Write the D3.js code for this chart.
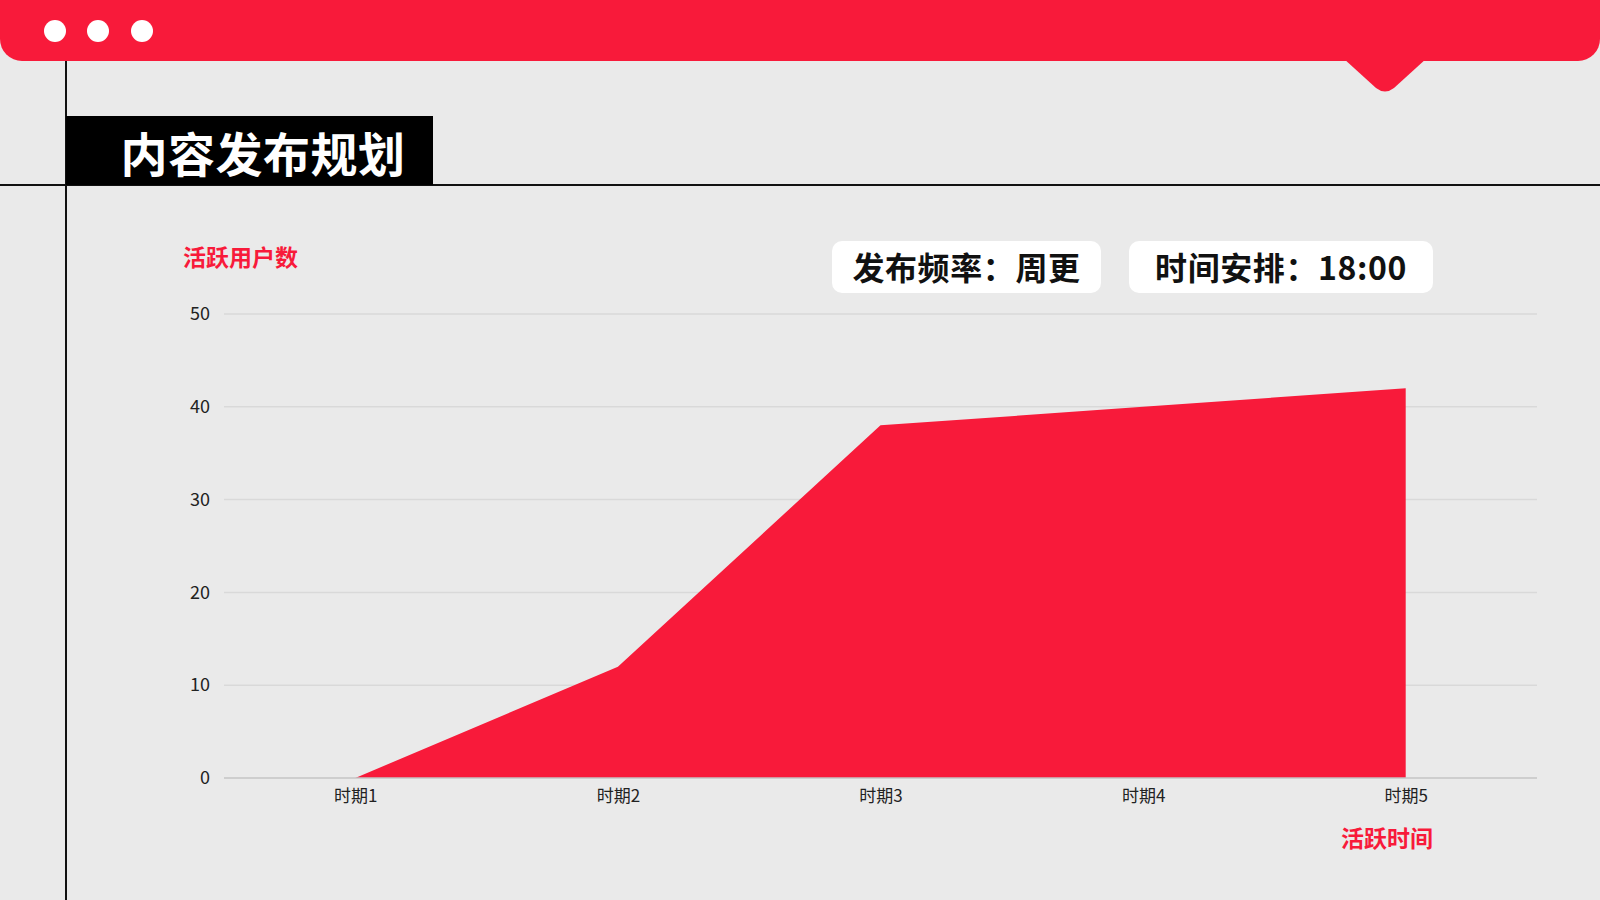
<!DOCTYPE html>
<html>
<head>
<meta charset="utf-8">
<script src="https://cdn.jsdelivr.net/npm/d3@7"></script>
<style>
  html, body { margin: 0; padding: 0; background: #eaeaea; overflow: hidden; }
  text { font-family: "Noto Sans CJK SC", "Noto Sans", sans-serif; }
</style>
</head>
<body>
<div id="chart"></div>
<script>
// Chart data
const periods = ["时期1", "时期2", "时期3", "时期4", "时期5"];
const activeUsers = [0, 12, 38, 40, 42];
const yTicks = [0, 10, 20, 30, 40, 50];

const titleText = "内容发布规划";
const yTitle = "活跃用户数";
const xTitle = "活跃时间";
const badges = ["发布频率：周更", "时间安排：18:00"];

const red = "#f81a3a";
const width = 1600;
const height = 900;

const svg = d3.select("#chart")
    .append("svg")
    .attr("width", width)
    .attr("height", height);

svg.append("rect")
    .attr("width", width)
    .attr("height", height)
    .attr("fill", "#eaeaea");

// Top red browser bar with its little tail
svg.append("rect")
    .attr("x", 0)
    .attr("y", -30)
    .attr("width", width)
    .attr("height", 91)
    .attr("rx", 22)
    .attr("fill", red);

svg.append("path")
    .attr("d", "M1343,58 L1376,88 Q1385,95 1394,88 L1427,58 Z")
    .attr("fill", red);

svg.selectAll(".dot")
    .data([55, 98, 142])
    .enter()
    .append("circle")
    .attr("cx", d => d)
    .attr("cy", 31)
    .attr("r", 11)
    .attr("fill", "#fff");

// Frame lines
svg.append("line")
    .attr("x1", 66).attr("x2", 66)
    .attr("y1", 61).attr("y2", height)
    .attr("stroke", "#111").attr("stroke-width", 2);

svg.append("line")
    .attr("x1", 0).attr("x2", width)
    .attr("y1", 185).attr("y2", 185)
    .attr("stroke", "#111").attr("stroke-width", 2);

// Title block
svg.append("rect")
    .attr("x", 66)
    .attr("y", 116)
    .attr("width", 367)
    .attr("height", 69)
    .attr("fill", "#000");

svg.append("text")
    .attr("x", 263)
    .attr("y", 151)
    .attr("text-anchor", "middle")
    .attr("dominant-baseline", "central")
    .attr("font-size", "47px")
    .attr("font-weight", 700)
    .attr("letter-spacing", "0.5px")
    .attr("fill", "#fff")
    .text(titleText);

// Badges
const badgeBoxes = [[832, 1101], [1129, 1433]];
badges.forEach((b, i) => {
    const [x0, x1] = badgeBoxes[i];
    svg.append("rect")
        .attr("x", x0)
        .attr("y", 241)
        .attr("width", x1 - x0)
        .attr("height", 52)
        .attr("rx", 10)
        .attr("fill", "#fff");
    svg.append("text")
        .attr("x", (x0 + x1) / 2)
        .attr("y", 266)
        .attr("text-anchor", "middle")
        .attr("dominant-baseline", "central")
        .attr("font-size", "32px")
        .attr("font-weight", 700)
        .attr("letter-spacing", "0.6px")
        .attr("fill", "#111")
        .text(b);
});

// Chart area
const margin = { left: 224, right: 1537, top: 314, bottom: 778 };

const x = d3.scalePoint()
    .domain(periods)
    .range([margin.left, margin.right])
    .padding(0.5);

const y = d3.scaleLinear()
    .domain([0, 50])
    .range([margin.bottom, margin.top]);

// Gridlines
svg.append("g")
    .selectAll("line")
    .data(yTicks.filter(d => d > 0))
    .enter()
    .append("line")
    .attr("x1", margin.left)
    .attr("x2", margin.right)
    .attr("y1", d => y(d))
    .attr("y2", d => y(d))
    .attr("stroke", "#d9d9d9")
    .attr("stroke-width", 1.5);

// Area
const area = d3.area()
    .x((d, i) => x(periods[i]))
    .y0(y(0))
    .y1(d => y(d));

svg.append("path")
    .datum(activeUsers)
    .attr("d", area)
    .attr("fill", red);

// Baseline
svg.append("line")
    .attr("x1", margin.left)
    .attr("x2", margin.right)
    .attr("y1", y(0))
    .attr("y2", y(0))
    .attr("stroke", "#c4c4c4")
    .attr("stroke-width", 1.5);

// Y axis
const yAxis = svg.append("g")
    .attr("transform", `translate(${margin.left - 14},0)`)
    .call(d3.axisLeft(y).tickValues(yTicks).tickSize(0).tickPadding(0));
yAxis.select(".domain").remove();
yAxis.selectAll("text")
    .attr("font-size", "18px")
    .attr("fill", "#222")
    .attr("font-family", "\"Noto Sans CJK SC\", sans-serif");

// X axis
const xAxis = svg.append("g")
    .attr("transform", `translate(0,${y(0)})`)
    .call(d3.axisBottom(x).tickSize(0).tickPadding(12));
xAxis.select(".domain").remove();
xAxis.selectAll("text")
    .attr("font-size", "17px")
    .attr("fill", "#222")
    .attr("font-family", "\"Noto Sans CJK SC\", sans-serif");

// Axis titles
svg.append("text")
    .attr("x", 183)
    .attr("y", 256)
    .attr("dominant-baseline", "central")
    .attr("font-size", "23px")
    .attr("font-weight", 700)
    .attr("fill", red)
    .text(yTitle);

svg.append("text")
    .attr("x", 1433)
    .attr("y", 837)
    .attr("text-anchor", "end")
    .attr("dominant-baseline", "central")
    .attr("font-size", "23px")
    .attr("font-weight", 700)
    .attr("fill", red)
    .text(xTitle);
</script>
</body>
</html>
